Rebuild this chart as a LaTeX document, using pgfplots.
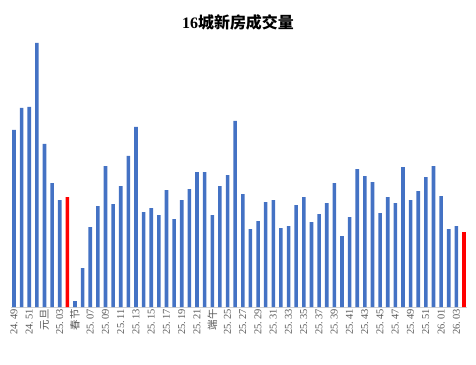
\documentclass[border=0pt]{standalone}
\usepackage{fontspec}
\setmainfont{Liberation Serif}
\newfontfamily\cjk{Noto Sans CJK SC}
\usepackage{pgfplots}
\pgfplotsset{compat=1.18}
\definecolor{barblue}{HTML}{4472C4}
\definecolor{barred}{HTML}{FF0000}
\begin{document}
\begin{tikzpicture}[x=1bp,y=1bp]
\path (0,0) rectangle (476,364);
\begin{axis}[
  at={(14bp,57bp)}, anchor=origin,
  scale only axis, width=456bp, height=267bp,
  xmin=-0.39, xmax=59.4, ymin=0, ymax=267,
  axis x line*=bottom, axis y line=none,
  x axis line style={draw=black!18,-, line width=0.8pt},
  xtick={0,2,...,58},
  xticklabels={24.\,49,24.\,51,{\cjk 元旦},25.\,03,{\cjk 春节},25.\,07,25.\,09,25.\,11,25.\,13,25.\,15,25.\,17,25.\,19,25.\,21,{\cjk 端午},25.\,25,25.\,27,25.\,29,25.\,31,25.\,33,25.\,35,25.\,37,25.\,39,25.\,41,25.\,43,25.\,45,25.\,47,25.\,49,25.\,51,26.\,01,26.\,03},
  xticklabel style={rotate=90, anchor=east, font=\fontsize{10.5}{11}\selectfont, text=black!65, inner sep=2pt},
  major tick length=0pt,
  ybar, bar width=3.6bp,
  clip=false,
]
\addplot[fill=barblue, draw=none, bar shift=0pt] coordinates {
(0,177) (1,199) (2,200) (3,264) (4,163) (5,124) (6,107)
(8,6) (9,39) (10,80) (11,101) (12,141) (13,103) (14,121) (15,151)
(16,180) (17,95) (18,99) (19,92) (20,117) (21,88) (22,107) (23,118)
(24,135) (25,135) (26,92) (27,121) (28,132) (29,186) (30,113) (31,78)
(32,86) (33,105) (34,107) (35,79) (36,81) (37,102) (38,110) (39,85)
(40,93) (41,104) (42,124) (43,71) (44,90) (45,138) (46,131) (47,125)
(48,94) (49,110) (50,104) (51,140) (52,107) (53,116) (54,130) (55,141)
(56,111) (57,78) (58,81)
};
\addplot[fill=barred, draw=none, bar shift=0pt] coordinates {
(7,110) (59,75)
};
\end{axis}
\node at (238,342) {\fontsize{16}{18}\selectfont\bfseries 16{\cjk\bfseries 城新房成交量}};
\end{tikzpicture}
\end{document}
